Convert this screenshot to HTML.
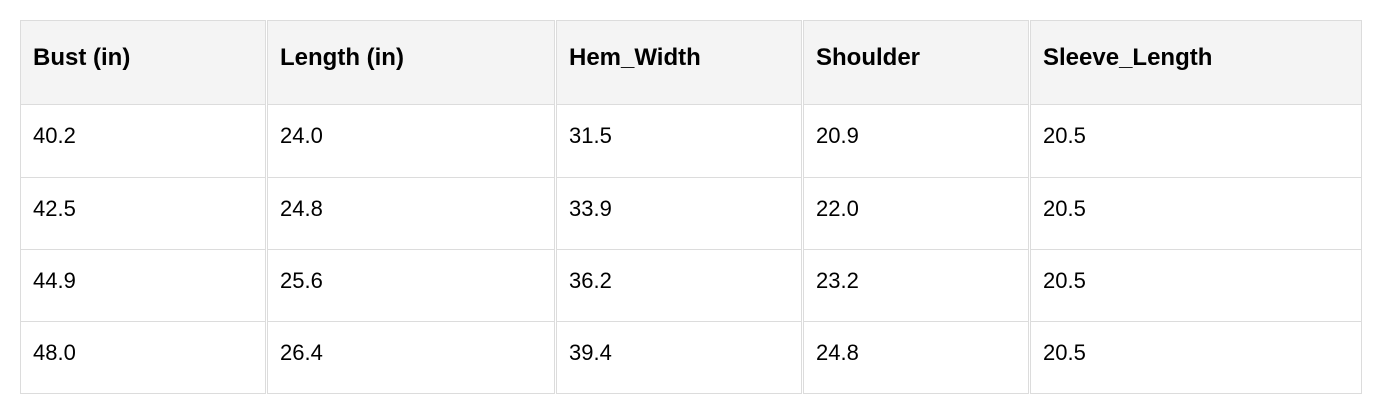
<!DOCTYPE html>
<html><head><style>
body{margin:0;width:1381px;height:413px;background:#fff;font-family:"Liberation Sans",Arial,sans-serif;position:relative;overflow:hidden}
.c{position:absolute;box-sizing:border-box;border:1px solid #dcdcdc;padding-left:12px;padding-bottom:10px;display:flex;align-items:center;color:#000}
.h{background:#f4f4f4;font-weight:bold;font-size:24px}
.d{font-size:22px}
</style></head><body>
<script>
const xs=[[20,266],[266,555],[555,802],[802,1029],[1029,1362]];
const ys=[[20,105],[105,178],[178,250],[250,322],[322,394]];
const data=[["Bust (in)","Length (in)","Hem_Width","Shoulder","Sleeve_Length"],
["40.2","24.0","31.5","20.9","20.5"],["42.5","24.8","33.9","22.0","20.5"],
["44.9","25.6","36.2","23.2","20.5"],["48.0","26.4","39.4","24.8","20.5"]];
let h="";
data.forEach((r,i)=>r.forEach((t,j)=>{
const [x0,x1]=xs[j],[y0,y1]=ys[i];
h+=`<div class="c ${i?'d':'h'}" style="left:${x0+(j?1:0)}px;top:${y0+(i?-1:0)}px;width:${x1-x0-(j?1:0)}px;height:${y1-y0+(i?1:0)}px">${t}</div>`;}));
document.write(h);
</script>
</body></html>
